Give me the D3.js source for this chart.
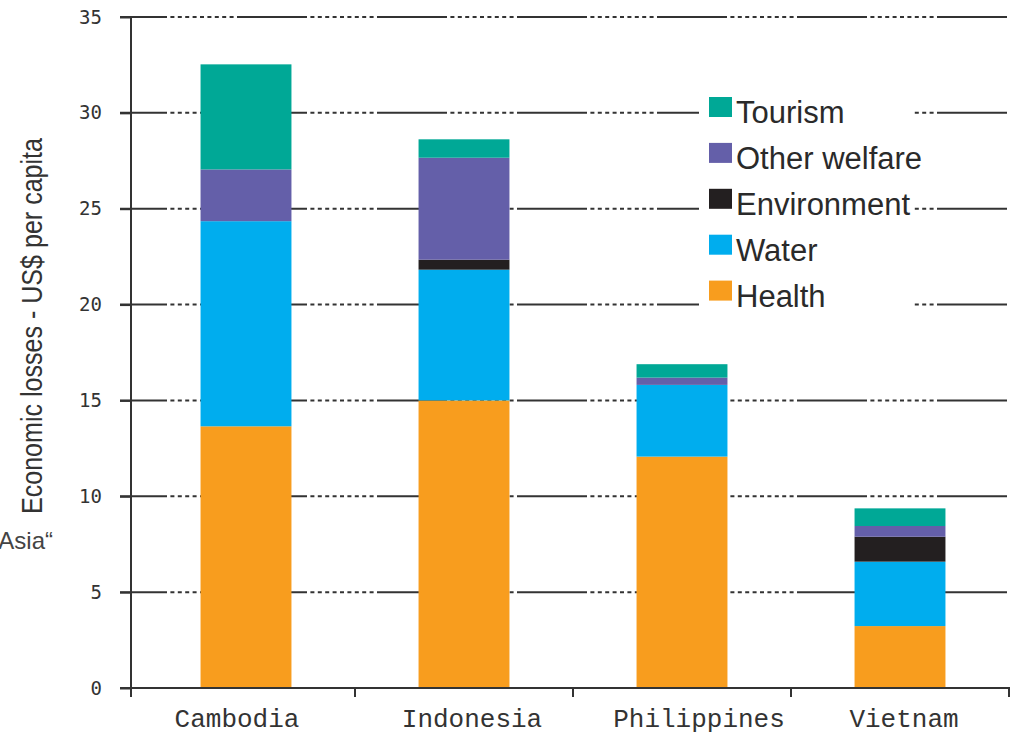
<!DOCTYPE html>
<html>
<head>
<meta charset="utf-8">
<script src="https://cdn.jsdelivr.net/npm/d3@7"></script>
<style>
  html, body { margin: 0; padding: 0; background: #fff; }
  svg { display: block; }
</style>
</head>
<body>
<svg id="chart" width="1015" height="733"></svg>
<script>
// ---- data ----
const countries    = ["Cambodia", "Indonesia", "Philippines", "Vietnam"];
const health       = [13.65, 15.00, 12.07, 3.23];
const water        = [10.70, 6.82, 3.74, 3.36];
const environment  = [0.00, 0.52, 0.00, 1.30];
const otherWelfare = [2.70, 5.32, 0.38, 0.56];
const tourism      = [5.48, 0.96, 0.70, 0.92];
const seriesNames  = ["Health", "Water", "Environment", "Other welfare", "Tourism"];
const legendOrder  = ["Tourism", "Other welfare", "Environment", "Water", "Health"];
const yTickValues  = [0, 5, 10, 15, 20, 25, 30, 35];
const yAxisTitle   = "Economic losses - US$ per capita";
const sideFragment = "Asia\u201C";

// ---- styles / layout ----
const colors = {
  "Health": "#f89d1e",
  "Water": "#00adee",
  "Environment": "#231f20",
  "Other welfare": "#645fa9",
  "Tourism": "#00a896"
};
const labelNudge = [-9, 8, 17, 4];
const axisColor = "#333";

const svg = d3.select("#chart");

const rows = countries.map((c, i) => ({
  country: c,
  "Health": health[i],
  "Water": water[i],
  "Environment": environment[i],
  "Other welfare": otherWelfare[i],
  "Tourism": tourism[i]
}));

const x = d3.scaleBand().domain(countries).range([137, 1009])
  .paddingInner(0.583).paddingOuter(0.2915);
const y = d3.scaleLinear().domain([0, 35]).range([688, 17]);

const axisX = 131;
const gridStart = 120, gridEnd = 1010;

// gridlines with solid/dashed alternating pattern
const dash = [70, 3.4];
for (let k = 0; k < 9; k++) dash.push(4, 3.4);
svg.append("g").selectAll("line")
  .data(yTickValues.filter(v => v > 0))
  .join("line")
  .attr("x1", gridStart).attr("x2", gridEnd)
  .attr("y1", d => y(d)).attr("y2", d => y(d))
  .attr("stroke", axisColor).attr("stroke-width", 2)
  .attr("stroke-dasharray", dash.join(","))
  .attr("stroke-dashoffset", 23);

// stacked bars
const stack = d3.stack().keys(seriesNames)(rows);
svg.append("g").selectAll("g")
  .data(stack)
  .join("g")
  .attr("fill", d => colors[d.key])
  .selectAll("rect")
  .data(d => d)
  .join("rect")
  .attr("x", d => x(d.data.country))
  .attr("width", x.bandwidth())
  .attr("y", d => y(d[1]))
  .attr("height", d => y(d[0]) - y(d[1]));

// y axis
const yAxis = d3.axisLeft(y).tickValues(yTickValues).tickSize(11).tickPadding(18)
  .tickFormat(d3.format("d"));
const gy = svg.append("g").attr("transform", `translate(${axisX},0)`).call(yAxis);
gy.select(".domain").remove();
gy.selectAll(".tick line").attr("stroke", axisColor).attr("stroke-width", 2);
gy.selectAll(".tick text")
  .attr("font-family", "'DejaVu Sans Mono', monospace")
  .attr("font-size", 19).attr("fill", "#333");
svg.append("line")
  .attr("x1", axisX).attr("x2", axisX)
  .attr("y1", y(35)).attr("y2", y(0) + 9)
  .attr("stroke", axisColor).attr("stroke-width", 2);

// x axis
svg.append("line")
  .attr("x1", gridStart).attr("x2", gridEnd)
  .attr("y1", y(0)).attr("y2", y(0))
  .attr("stroke", axisColor).attr("stroke-width", 2);
const step = x.step();
const boundaries = countries.slice(1).map(c => x(c) - x.paddingOuter() * step)
  .concat([x.range()[1]]);
svg.append("g").selectAll("line")
  .data(boundaries)
  .join("line")
  .attr("x1", d => d).attr("x2", d => d)
  .attr("y1", y(0)).attr("y2", y(0) + 9)
  .attr("stroke", axisColor).attr("stroke-width", 2);
svg.append("g").selectAll("text")
  .data(countries)
  .join("text")
  .attr("x", (d, i) => x(d) + x.bandwidth() / 2 + labelNudge[i])
  .attr("y", 727)
  .attr("text-anchor", "middle")
  .attr("font-family", "'Liberation Mono', 'DejaVu Sans Mono', monospace")
  .attr("font-size", 26)
  .attr("fill", "#333")
  .text(d => d);

// y axis title
svg.append("text")
  .attr("transform", `translate(42,326) rotate(-90)`)
  .attr("text-anchor", "middle")
  .attr("font-family", "'Liberation Sans', Arial, sans-serif")
  .attr("font-size", 30)
  .attr("textLength", 376)
  .attr("lengthAdjust", "spacingAndGlyphs")
  .attr("fill", "#333")
  .text(yAxisTitle);

// cropped side text fragment
svg.append("text")
  .attr("x", 53).attr("y", 549)
  .attr("text-anchor", "end")
  .attr("font-family", "'Liberation Sans', Arial, sans-serif")
  .attr("font-size", 24)
  .attr("fill", "#444")
  .text(sideFragment);

// legend
const legend = svg.append("g");
legend.append("rect")
  .attr("x", 699).attr("y", 90).attr("width", 213).attr("height", 228)
  .attr("fill", "#fff");
const item = legend.selectAll("g.item")
  .data(legendOrder)
  .join("g").attr("class", "item")
  .attr("transform", (d, i) => `translate(0,${123 + i * 45.9})`);
item.append("rect")
  .attr("x", 709).attr("y", -26).attr("width", 23).attr("height", 20)
  .attr("fill", d => colors[d]);
item.append("text")
  .attr("x", 736).attr("y", 0)
  .attr("font-family", "'Liberation Sans', Arial, sans-serif")
  .attr("font-size", 31)
  .attr("fill", "#2a2a2a")
  .text(d => d);
</script>
</body>
</html>
